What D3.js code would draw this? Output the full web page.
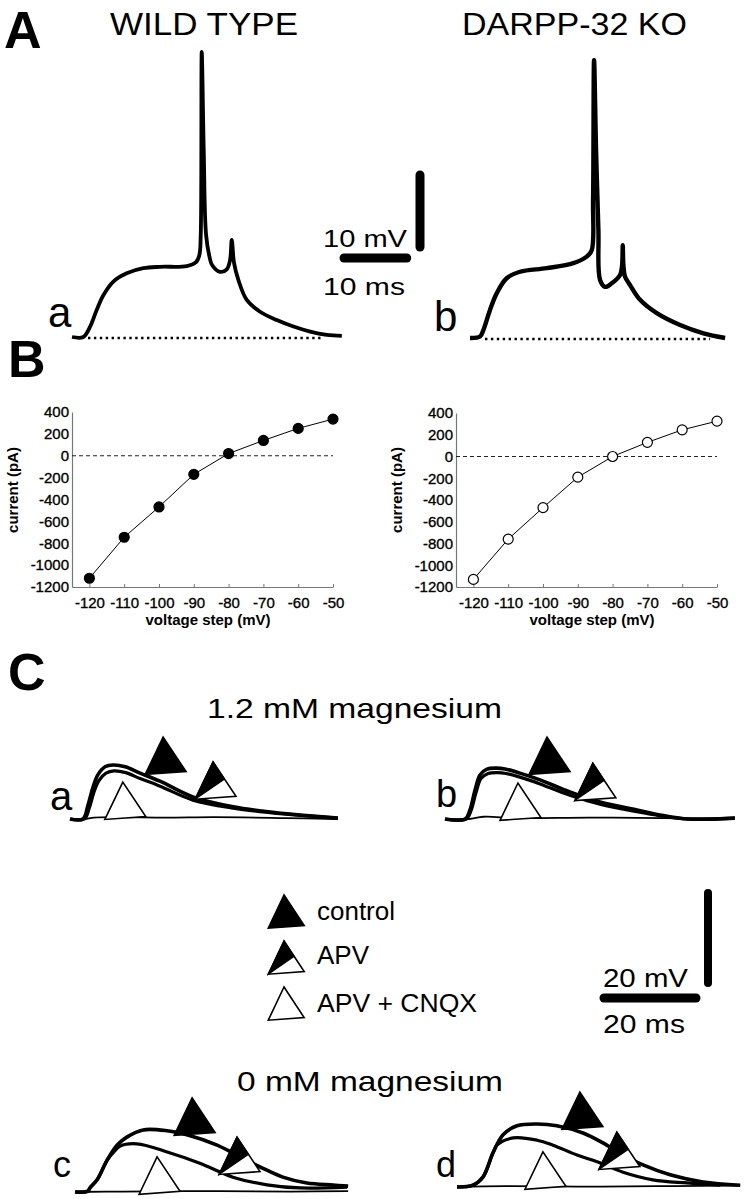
<!DOCTYPE html>
<html>
<head>
<meta charset="utf-8">
<script src="https://cdnjs.cloudflare.com/ajax/libs/d3/7.8.5/d3.min.js"></script>
<style>
  body { margin: 0; background: #fff; }
  svg { display: block; font-family: "Liberation Sans", Arial, Helvetica, sans-serif; }
</style>
</head>
<body>
<div id="fig"></div>
<script>
// ---- data ----
// A: action potentials, [time ms, voltage mV above baseline]
var wtSpikeTrace = [[0,0],[1.7,0],[2.7,1.4],[3.7,3.75],[4.7,5.8],[6.2,7.7],[8.2,8.85],[10.7,9.55],[13.2,9.75],[17.2,9.85],[18.6,10.4],[19.1,11.4],[19.3,14.2],[19.45,39.6],[19.75,26],[20.1,14.2],[20.6,11.2],[21.0,10],[22.2,9.05],[23.2,9.4],[23.7,10.7],[23.95,13.5],[24.3,10.25],[24.95,7.9],[26.2,5.15],[28.2,3.5],[30.7,2.35],[33.2,1.45],[35.7,0.75],[38.2,0.3],[40.45,0.15]];
var koSpikeTrace = [[0,0],[1.5,0.2],[2.0,1.1],[3.0,3.9],[4.0,6.2],[5.5,8.3],[7.5,9.2],[11.5,9.7],[15.5,10.4],[17.5,11.3],[18.25,12.2],[18.45,19.2],[18.6,38.6],[18.9,26.1],[19.25,15],[19.5,8.05],[20.25,7.1],[21.25,7.6],[22.5,8.75],[22.8,10.1],[22.9,12.9],[23.0,10.1],[23.25,8.5],[24.0,7.35],[25.5,5.3],[28.0,3.45],[31.5,1.8],[35.0,0.65],[38.25,0]];
var wtBaseline = [2.4, 37.7];
var koBaseline = [2.25, 36];

// B: I-V curves
var voltageSteps = [-120, -110, -100, -90, -80, -70, -60, -50];
var wtCurrent = [-1120, -745, -468, -170, 20, 140, 250, 335];
var koCurrent = [-1130, -760, -470, -190, 0, 130, 245, 325];
var currentTicks = [400, 200, 0, -200, -400, -600, -800, -1000, -1200];

// C: synaptic potentials, [time ms, mV]
var mg12WtControl = [[0,0],[2.7,0],[3.75,3.1],[4.8,7.1],[5.8,9.8],[7.3,11.6],[9.0,12.0],[11.5,11.6],[14.6,10.2],[18.75,8.4],[25.6,4.9],[34,2.7],[41.7,1.55],[47.9,0.9],[55.8,0.2]];
var mg12WtApv = [[0,0],[3.0,0],[4.0,2.4],[5.0,6.0],[6.0,8.5],[7.5,10.2],[9.2,10.7],[11.6,10.3],[14.6,9.0],[18.75,7.3],[25.6,4.2],[34,2.4],[41.7,1.4],[47.9,0.8],[55.8,0.2]];
var mg12WtCnqx = [[0,0],[3,0],[5,0.3],[10,0.4],[20,0.3],[30,0.4],[45,0.2],[55.8,0]];
var mg12KoControl = [[0,0],[4.2,0],[5.2,2],[6.25,6.4],[7.3,9.8],[8.75,11.1],[10.8,11.3],[12.5,11.1],[15.6,10.2],[19.8,8.7],[26,6],[32.3,3.8],[40,2],[44.8,0.9],[50.4,0],[60.4,0.2]];
var mg12KoApv = [[0,0],[4.4,0],[5.4,1.8],[6.5,6],[7.5,9.0],[9,10.1],[11,10.3],[12.7,10.1],[15.6,9.3],[19.8,7.8],[26,5.3],[32.3,3.3],[40,1.6],[44.8,0.7],[50.4,0],[60.4,0.2]];
var mg12KoCnqx = [[0,0],[5,0],[8,0.5],[15,0.2],[30,0.3],[45,0.2],[60.4,0]];
var mg0WtControl = [[0,0],[2.7,0.2],[3.1,0.9],[4.6,2.7],[6.7,7.1],[8.75,10.4],[10.8,12.2],[14.2,13.8],[19.2,13.6],[23.3,12.7],[29.6,10.4],[34.4,7.8],[38.5,5.6],[43.3,3.3],[48.3,2],[53.75,1.55],[56.9,1.3]];
var mg0WtApv = [[0,0],[2.7,0.2],[3.1,0.9],[4.6,2.7],[6.7,7.1],[8.2,9.0],[9.4,10.2],[12.9,10.7],[19.2,8.9],[26,6.4],[32.9,3.3],[40,1.6],[46.9,0.9],[56.7,1.1]];
var mg0WtCnqx = [[0,0],[10,0.1],[30,0.2],[45,0.1],[56.9,0.2]];
var mg0KoControl = [[0,0],[3.3,0.4],[5.4,2.2],[7.5,7.6],[9.6,11.6],[12.5,13.6],[16.7,14],[20.8,13.6],[26.25,12],[30.4,9.8],[34.6,7.1],[38.75,4.9],[44.4,2.7],[51.25,1.1],[59,0.4]];
var mg0KoApv = [[0,0],[3.3,0.4],[5.4,2.2],[7.5,7.6],[8.3,9.3],[11.7,10.9],[16.7,10.4],[20,9.3],[25,7.1],[29.2,5.6],[34.6,3.3],[40.8,1.6],[47.9,0.9],[54.8,0.4]];
var mg0KoCnqx = [[0,0],[10,0.2],[30,0.1],[45,0.2],[59,0.3]];

// triangle markers [control, APV, APV+CNQX] apex, in [ms, mV]
var markersA = [[19.4,18.2],[29.8,12.7],[11.0,8.2]];
var markersB = [[21.25,18.2],[30.8,12.4],[15.2,8.0]];
var markersC = [[24.4,20.9],[33.75,12.2],[17.1,7.8]];
var markersD = [[25.6,21.1],[33.3,12.2],[17.9,7.8]];
var legendLabels = ["control", "APV", "APV + CNQX"];
var markerKinds = ["full", "half", "open"];

// ---- drawing ----
var svg = d3.select("#fig").append("svg")
    .attr("width", 747)
    .attr("height", 1199);

function txt(x, y, s, size, opts) {
    opts = opts || {};
    var t = svg.append("text")
        .attr("x", x).attr("y", y)
        .attr("font-size", size)
        .attr("font-weight", opts.bold ? "bold" : "normal")
        .text(s);
    if (opts.len) t.attr("textLength", opts.len).attr("lengthAdjust", "spacingAndGlyphs");
    if (opts.anchor) t.attr("text-anchor", opts.anchor);
    return t;
}

var traceLine = function (x, y) {
    return d3.line()
        .x(function (d) { return x(d[0]); })
        .y(function (d) { return y(d[1]); })
        .curve(d3.curveCatmullRom.alpha(0.5));
};

// panel letters
txt(4, 48, "A", 52, { bold: true });
txt(8, 377, "B", 52, { bold: true });
txt(8, 690, "C", 52, { bold: true });

// ---------- A ----------
txt(110, 35, "WILD TYPE", 31, { len: 188 });
txt(462, 35, "DARPP-32 KO", 31, { len: 225 });

var msPx = 6.67, mvPx = 7.2;   // 10 ms / 10 mV scale bar
function spikePanel(x0, y0, trace, base, w) {
    var x = d3.scaleLinear().domain([0, 10]).range([x0, x0 + 10 * msPx]);
    var y = d3.scaleLinear().domain([0, 10]).range([y0, y0 - 10 * mvPx]);
    svg.append("line")
        .attr("x1", x(base[0])).attr("x2", x(base[1]))
        .attr("y1", y(0) + 1).attr("y2", y(0) + 1)
        .attr("stroke", "#000").attr("stroke-width", 2.6)
        .attr("stroke-dasharray", "2.4,3.5");
    svg.append("path")
        .attr("d", traceLine(x, y)(trace))
        .attr("fill", "none").attr("stroke", "#000")
        .attr("stroke-width", w).attr("stroke-linejoin", "round");
}
spikePanel(72, 337, wtSpikeTrace, wtBaseline, 3.8);
spikePanel(470, 338, koSpikeTrace, koBaseline, 4.4);
txt(48, 327, "a", 42);
txt(434, 331, "b", 42);

// scale bar A
svg.append("line").attr("x1", 420).attr("x2", 420).attr("y1", 247).attr("y2", 247 - 10 * mvPx)
    .attr("stroke", "#000").attr("stroke-width", 9).attr("stroke-linecap", "round");
svg.append("line").attr("x1", 344).attr("x2", 344 + 10 * msPx - 4).attr("y1", 258).attr("y2", 258)
    .attr("stroke", "#000").attr("stroke-width", 9).attr("stroke-linecap", "round");
txt(323, 247, "10 mV", 24, { len: 84 });
txt(323, 295, "10 ms", 24, { len: 82 });

// ---------- B ----------
function ivPanel(left, top, current, filled) {
    var x = d3.scaleLinear().domain([-125, -50]).range([left, left + 261]);
    var y = d3.scaleLinear().domain([-1200, 400]).range([587, top]);
    var g = svg.append("g");
    var plain = function (d) { return String(d); };

    var ya = g.append("g").attr("transform", "translate(" + left + ",0)")
        .call(d3.axisLeft(y).tickValues(currentTicks).tickFormat(plain).tickSize(0).tickPadding(3));
    var xa = g.append("g").attr("transform", "translate(0,587)")
        .call(d3.axisBottom(x).tickValues(voltageSteps).tickFormat(plain)
            .tickSizeInner(-3).tickSizeOuter(0).tickPadding(10));
    [ya, xa].forEach(function (a) {
        a.select(".domain").attr("stroke", "#777").attr("stroke-width", 1.2);
        a.selectAll(".tick line").attr("stroke", "#777");
        a.selectAll("text").attr("font-size", 15).attr("fill", "#000")
            .attr("font-family", "'Liberation Sans', Arial, sans-serif")
            .attr("stroke", "#000").attr("stroke-width", 0.35);
    });

    g.append("line")
        .attr("x1", x(-125)).attr("x2", x(-50))
        .attr("y1", y(0)).attr("y2", y(0))
        .attr("stroke", "#222").attr("stroke-width", 1)
        .attr("stroke-dasharray", "4,3");

    var pts = voltageSteps.map(function (v, i) { return [v, current[i]]; });
    g.append("path")
        .attr("d", d3.line().x(function (d) { return x(d[0]); }).y(function (d) { return y(d[1]); })(pts))
        .attr("fill", "none").attr("stroke", "#000").attr("stroke-width", 1);
    g.selectAll("circle").data(pts).enter().append("circle")
        .attr("cx", function (d) { return x(d[0]); })
        .attr("cy", function (d) { return y(d[1]); })
        .attr("r", 5)
        .attr("fill", filled ? "#000" : "#fff")
        .attr("stroke", "#000").attr("stroke-width", 1.2);

    g.append("text")
        .attr("transform", "translate(" + (left - 54) + ",490) rotate(-90)")
        .attr("text-anchor", "middle").attr("font-size", 15).attr("font-weight", "bold")
        .text("current (pA)");
    g.append("text")
        .attr("x", left + 136).attr("y", 625)
        .attr("text-anchor", "middle").attr("font-size", 15).attr("font-weight", "bold")
        .text("voltage step (mV)");
}
ivPanel(72, 412, wtCurrent, true);
ivPanel(456, 413, koCurrent, false);

// ---------- C ----------
txt(207, 718, "1.2 mM magnesium", 28, { len: 295 });
txt(237, 1091, "0 mM magnesium", 28, { len: 266 });

var cMs = 4.8, cMv = 4.5;   // 20 ms / 20 mV scale bar

function triangle(g, ax, ay, kind, w, h) {
    var t = g.append("g").attr("transform", "translate(" + ax + "," + ay + ") rotate(-4)");
    var L = [-w / 2, h], R = [w / 2, h], A = [0, 0];
    var M = [(A[0] + R[0]) / 2, (A[1] + R[1]) / 2];
    t.append("path")
        .attr("d", "M" + [A, L, R].join("L") + "Z")
        .attr("fill", kind === "full" ? "#000" : "#fff")
        .attr("stroke", "#000").attr("stroke-width", 1.6).attr("stroke-linejoin", "miter");
    if (kind === "half") {
        t.append("path")
            .attr("d", "M" + [A, L, M].join("L") + "Z")
            .attr("fill", "#000").attr("stroke", "#000").attr("stroke-width", 1.2);
    }
}

function epspPanel(x0, y0, control, apv, cnqx, markers, label, lx, ly, lsize) {
    var x = d3.scaleLinear().domain([0, 20]).range([x0, x0 + 20 * cMs]);
    var y = d3.scaleLinear().domain([0, 20]).range([y0, y0 - 20 * cMv]);
    var g = svg.append("g");
    var line = traceLine(x, y);
    g.append("path").attr("d", line(cnqx)).attr("fill", "none")
        .attr("stroke", "#000").attr("stroke-width", 1.8);
    g.append("path").attr("d", line(control)).attr("fill", "none")
        .attr("stroke", "#000").attr("stroke-width", 3.6).attr("stroke-linejoin", "round");
    g.append("path").attr("d", line(apv)).attr("fill", "none")
        .attr("stroke", "#000").attr("stroke-width", 3.2).attr("stroke-linejoin", "round");
    markers.forEach(function (m, i) {
        triangle(g, x(m[0]), y(m[1]), markerKinds[i], 41, 36);
    });
    txt(lx, ly, label, lsize);
}
epspPanel(70, 819, mg12WtControl, mg12WtApv, mg12WtCnqx, markersA, "a", 50, 810, 40);
epspPanel(445, 819, mg12KoControl, mg12KoApv, mg12KoCnqx, markersB, "b", 436, 807, 38);
epspPanel(75, 1192, mg0WtControl, mg0WtApv, mg0WtCnqx, markersC, "c", 53, 1177, 36);
epspPanel(457, 1187, mg0KoControl, mg0KoApv, mg0KoCnqx, markersD, "d", 436, 1177, 36);

// legend
var leg = svg.append("g");
var legY = d3.scalePoint().domain(legendLabels).range([895, 987]);
legendLabels.forEach(function (s, i) {
    triangle(leg, 284, legY(s), markerKinds[i], 36, 32);
    txt(317, legY(s) + (i === 0 ? 25 : i === 1 ? 23 : 25), s, 26, { len: [78, 52, 160][i] });
});

// scale bar C
svg.append("line").attr("x1", 708).attr("x2", 708).attr("y1", 983).attr("y2", 983 - 20 * cMv)
    .attr("stroke", "#000").attr("stroke-width", 8).attr("stroke-linecap", "round");
svg.append("line").attr("x1", 604).attr("x2", 604 + 20 * cMs - 4).attr("y1", 998).attr("y2", 998)
    .attr("stroke", "#000").attr("stroke-width", 9).attr("stroke-linecap", "round");
txt(603, 987, "20 mV", 26, { len: 85 });
txt(603, 1033, "20 ms", 26, { len: 82 });
</script>
</body>
</html>
